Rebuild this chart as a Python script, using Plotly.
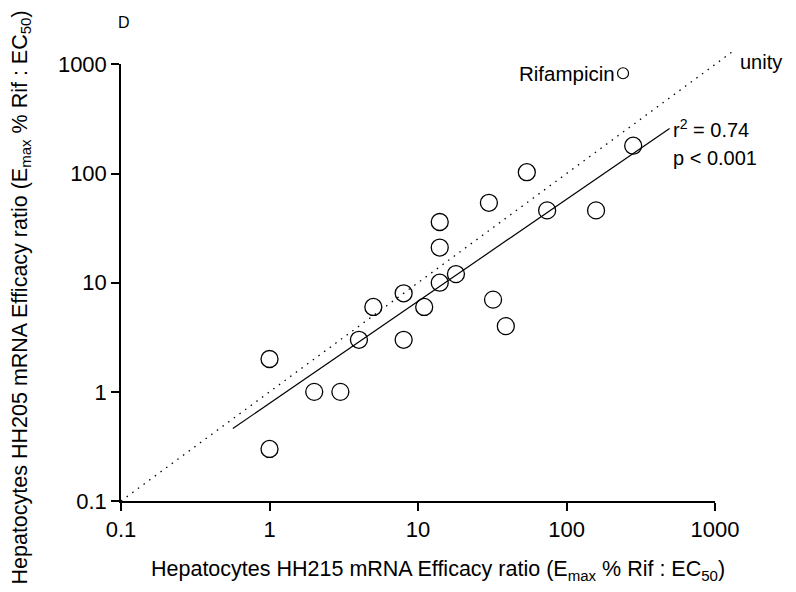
import numpy as np
import plotly.graph_objects as go

# ---------------- data ----------------
hh215 = [1, 1, 2, 3, 4, 5, 8, 8, 11, 14, 14, 14, 18, 30, 32, 39, 54, 74, 158, 281]
hh205 = [2, 0.3, 1, 1, 3, 6, 8, 3, 6, 10, 21, 36, 12, 54, 7, 4, 103, 46, 46, 180]
rif_x = [240]
rif_y = [830]
reg_slope = 0.935          # log-log regression slope
reg_intercept = -0.105     # log10 intercept
reg_x_span = [0.566, 494]  # extent of drawn regression line
unity_span = [0.1, 1300]   # extent of drawn unity line
tick_vals = [0.1, 1, 10, 100, 1000]
tick_text = ["0.1", "1", "10", "100", "1000"]

# ---------------- layout geometry ----------------
W, H = 796, 592
ML, MR, MT, MB = 121, 64, 52, 91
LOG_MIN, LOG_MAX = -1.0, 3.0
ext = np.log10(unity_span[1]) - LOG_MAX
frac = (LOG_MAX - LOG_MIN) / (LOG_MAX - LOG_MIN + ext)
PW, PH = W - ML - MR, H - MT - MB
px_per_dec_x = PW * frac / (LOG_MAX - LOG_MIN)
px_per_dec_y = PH * frac / (LOG_MAX - LOG_MIN)


def px(x):
    return (x - ML) / PW


def py(y):
    return 1 - (y - MT) / PH


FONT = "Liberation Sans, Arial, sans-serif"

minor_vals = [m * v for v in tick_vals[:-1] for m in range(2, 10)]
MINOR_LEN = 5.0

fig = go.Figure()

# unity line on an extended, invisible subplot so it can pass beyond 1000
ux = np.array(unity_span)
fig.add_trace(go.Scatter(x=ux, y=ux, mode="lines", xaxis="x2", yaxis="y2",
                         line=dict(color="black", width=1.3, dash="1.5px,5.5px"),
                         hoverinfo="skip"))

# regression line
rx = np.logspace(np.log10(reg_x_span[0]), np.log10(reg_x_span[1]), 2)
ry = 10 ** (reg_intercept + reg_slope * np.log10(rx))
fig.add_trace(go.Scatter(x=rx, y=ry, mode="lines",
                         line=dict(color="black", width=1.2)))

# data points
fig.add_trace(go.Scatter(x=hh215, y=hh205, mode="markers",
                         marker=dict(symbol="circle-open", size=17, color="black",
                                     line=dict(width=1.3, color="black"))))
fig.add_trace(go.Scatter(x=rif_x, y=rif_y, mode="markers",
                         marker=dict(symbol="circle-open", size=11, color="black",
                                     line=dict(width=1.2, color="black"))))

# minor ticks as unclipped line markers just outside each axis
off_y = 10 ** (LOG_MIN - (MINOR_LEN / 2 + 0.5) / px_per_dec_y)
off_x = 10 ** (LOG_MIN - (MINOR_LEN / 2 + 0.5) / px_per_dec_x)
fig.add_trace(go.Scatter(x=minor_vals, y=[off_y] * len(minor_vals), mode="markers",
                         cliponaxis=False, hoverinfo="skip",
                         marker=dict(symbol="line-ns", size=MINOR_LEN, color="black",
                                     line=dict(width=1.4, color="black"))))
fig.add_trace(go.Scatter(x=[off_x] * len(minor_vals), y=minor_vals, mode="markers",
                         cliponaxis=False, hoverinfo="skip",
                         marker=dict(symbol="line-ew", size=MINOR_LEN, color="black",
                                     line=dict(width=1.4, color="black"))))

major_axis = dict(
    type="log", range=[LOG_MIN, LOG_MAX], domain=[0, frac], showline=True,
    linecolor="black", linewidth=1.5, ticks="outside", ticklen=8, tickwidth=1.5,
    tickcolor="black", tickmode="array", tickvals=tick_vals, ticktext=tick_text,
    tickfont=dict(family=FONT, size=22, color="black"),
    showgrid=False, zeroline=False,
)

fig.update_layout(
    width=W, height=H,
    margin=dict(l=ML, r=MR, t=MT, b=MB),
    paper_bgcolor="white", plot_bgcolor="rgba(0,0,0,0)",
    showlegend=False,
    xaxis=dict(anchor="y", **major_axis),
    yaxis=dict(anchor="x", **major_axis),
    xaxis2=dict(type="log", domain=[0, 1], range=[LOG_MIN, LOG_MAX + ext],
                anchor="y2", visible=False),
    yaxis2=dict(type="log", domain=[0, 1], range=[LOG_MIN, LOG_MAX + ext],
                anchor="x2", visible=False),
    font=dict(family=FONT, color="black"),
)

ann_font = dict(family=FONT, size=20, color="black")
title_font = dict(family=FONT, size=21.5, color="black")
annotations = [
    dict(text="D", x=px(124), y=py(22), xref="paper", yref="paper",
         xanchor="center", yanchor="middle", showarrow=False,
         font=dict(family=FONT, size=16, color="black")),
    dict(text="Rifampicin", x=np.log10(rif_x[0]), y=np.log10(rif_y[0]),
         xref="x", yref="y", xanchor="right", yanchor="middle", xshift=-6,
         showarrow=False, font=dict(family=FONT, size=20.5, color="black")),
    dict(text="unity", x=px(738), y=py(62), xref="paper", yref="paper",
         xanchor="left", yanchor="middle", showarrow=False, font=ann_font),
    dict(text="r<sup>2</sup> = 0.74", x=px(671), y=py(128), xref="paper", yref="paper",
         xanchor="left", yanchor="middle", showarrow=False, font=ann_font),
    dict(text="p &lt; 0.001", x=px(671), y=py(158), xref="paper", yref="paper",
         xanchor="left", yanchor="middle", showarrow=False, font=ann_font),
    dict(text="Hepatocytes HH215 mRNA Efficacy ratio (E<sub>max</sub> % Rif : EC<sub>50</sub>)",
         x=px(438.5), y=py(570), xref="paper", yref="paper",
         xanchor="center", yanchor="middle", showarrow=False, font=title_font),
    dict(text="Hepatocytes HH205 mRNA Efficacy ratio (E<sub>max</sub> % Rif : EC<sub>50</sub>)",
         x=px(21), y=py(297.5), xref="paper", yref="paper", textangle=-90,
         xanchor="center", yanchor="middle", showarrow=False, font=title_font),
]
fig.update_layout(annotations=annotations)

fig.write_html("out.html")
